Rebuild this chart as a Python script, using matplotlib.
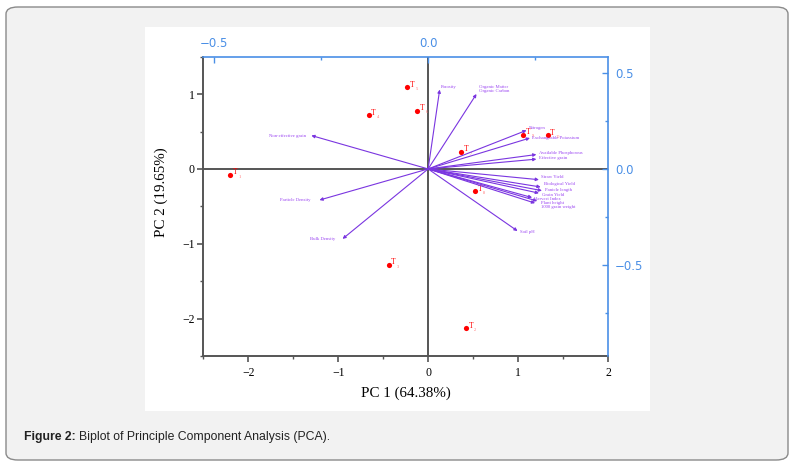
import numpy as np
import matplotlib
matplotlib.use("Agg")
import matplotlib.pyplot as plt
from matplotlib.patches import FancyBboxPatch

# treatment scores (PC1, PC2)
treat_names = ["1", "4", "5", "6", "7", "9", "10", "8", "3", "2"]
pc1_scores = [-2.20, -0.66, -0.23, -0.12, 0.37, 1.06, 1.33, 0.52, -0.44, 0.42]
pc2_scores = [-0.08, 0.72, 1.09, 0.78, 0.23, 0.46, 0.45, -0.30, -1.28, -2.13]

# variable loadings (top / right axes)
var_names = ["Porosity", "Organic Matter\nOrganic Carbon", "Nitrogen",
             "Exchangeable Potassium", "Available Phosphorous", "Effective grain",
             "Straw Yield", "Biological Yield", "Panicle length", "Grain Yield",
             "Harvest Index", "Plant height", "1000 grain weight", "Soil pH",
             "Non-effective grain", "Particle Density", "Bulk Density"]
load_x = [0.027, 0.113, 0.230, 0.238, 0.253, 0.253, 0.259, 0.263, 0.266, 0.259,
          0.243, 0.255, 0.250, 0.209, -0.273, -0.254, -0.200]
load_y = [0.413, 0.390, 0.201, 0.161, 0.075, 0.051, -0.056, -0.094, -0.113, -0.126,
          -0.149, -0.167, -0.178, -0.323, 0.174, -0.162, -0.364]
# label offsets in points from arrow tip
lab_dx = [1, 1.5, 1.5, 1.5, 2, 2, 1.5, 2.5, 2, 2.5, 1.5, 3, 4, 1.5, -4, -6.5, -5]
lab_dy = [1.5, 3.5, 1.5, 0, 0.8, 0.8, 2, 2, 0.2, -1, -0.8, -1.5, -3, -1, 0, 0, 0]

plt.rcParams['font.family'] = ['Liberation Serif', 'DejaVu Serif']
plt.rcParams['axes.unicode_minus'] = True

W, H = 794, 467
fig = plt.figure(figsize=(W / 100, H / 100), dpi=100, facecolor='white')

# page frame
fig.patches.append(FancyBboxPatch((6 / W, 1 - 460 / H), 782 / W, 453 / H,
                                  boxstyle="round,pad=0,rounding_size=0.015",
                                  transform=fig.transFigure, facecolor='#f2f2f2',
                                  edgecolor='#8a8a8a', linewidth=1.0, zorder=-2))
fig.patches.append(plt.Rectangle((145 / W, 1 - 411 / H), 505 / W, 384 / H,
                                 transform=fig.transFigure, facecolor='white',
                                 edgecolor='none', zorder=-1))

pos = [203.3 / W, 1 - 356 / H, 404.7 / W, 299.3 / H]
ax = fig.add_axes(pos)
ax.set_xlim(-2.5, 2)
ax.set_ylim(-2.5, 1.5)
ax.patch.set_alpha(0)

blue = '#4a8fe6'
gray = '#555555'
for s in ['top', 'right']:
    ax.spines[s].set_visible(False)
for s in ['left', 'bottom']:
    ax.spines[s].set_color(gray)
    ax.spines[s].set_linewidth(1.4)

ax.set_xticks([-2, -1, 0, 1, 2])
ax.set_xticks([-2.5, -1.5, -0.5, 0.5, 1.5], minor=True)
ax.set_yticks([-2, -1, 0, 1])
ax.set_yticks([-2.5, -1.5, -0.5, 0.5, 1.5], minor=True)
ax.tick_params(which='major', length=4, width=1.2, color=gray, labelsize=8.5)
ax.tick_params(axis='x', which='major', pad=4)
ax.tick_params(axis='y', which='major', pad=2)
ax.tick_params(which='minor', length=2.5, width=1.0, color=gray)

ax.axvline(0, color=gray, lw=1.4, zorder=1)
ax.axhline(0, color=gray, lw=1.4, zorder=1)

ax.set_xlabel('PC 1 (64.38%)', fontsize=10.8, labelpad=5)
ax.set_ylabel('PC 2 (19.65%)', fontsize=10.8)
ax.yaxis.set_label_coords(-0.087, 0.548)

# secondary axes for loadings
ax2 = fig.add_axes(pos)
ax2.patch.set_alpha(0)
ax2.set_xlim(-2.5 / 4.757, 2 / 4.757)
ax2.set_ylim(-2.5 / 2.568, 1.5 / 2.568)
ax2.xaxis.tick_top()
ax2.yaxis.tick_right()
for s in ['left', 'bottom']:
    ax2.spines[s].set_visible(False)
for s in ['top', 'right']:
    ax2.spines[s].set_color(blue)
    ax2.spines[s].set_linewidth(1.2)
ax2.set_xticks([-0.5, 0.0])
ax2.set_xticks([-0.25, 0.25], minor=True)
ax2.set_yticks([-0.5, 0.0, 0.5])
ax2.set_yticks([-0.75, -0.25, 0.25], minor=True)
ax2.set_xticklabels(['\u22120.5', '0.0'], family='DejaVu Sans')
ax2.set_yticklabels(['\u22120.5', '0.0', '0.5'], family='DejaVu Sans')
ax2.tick_params(which='both', direction='in', color=blue, labelcolor=blue)
ax2.tick_params(which='major', length=4, width=1.0, labelsize=8.5, pad=5)
ax2.tick_params(which='minor', length=2.5, width=1.0)

arrow_col = '#7a35e0'
text_col = '#9b45f2'
for name, lx, ly, dx, dy in zip(var_names, load_x, load_y, lab_dx, lab_dy):
    ax2.annotate('', xy=(lx, ly), xytext=(0, 0),
                 arrowprops=dict(arrowstyle='-|>', color=arrow_col, lw=0.8,
                                 mutation_scale=4.5, shrinkA=0, shrinkB=0),
                 zorder=3)
    ax2.annotate(name, xy=(lx, ly), xytext=(dx, dy), textcoords='offset points',
                 fontsize=3.4, color=text_col, linespacing=1.0,
                 ha='left' if dx > 0 else 'right', va='center', zorder=4)

ax.scatter(pc1_scores, pc2_scores, s=14, color='red', zorder=5, linewidths=0)
for name, x, y in zip(treat_names, pc1_scores, pc2_scores):
    ax.annotate('T', xy=(x, y), xytext=(1.8, 1.8), textcoords='offset points',
                fontsize=5.5, color='red', ha='left', va='center', zorder=6)
    ax.annotate(name, xy=(x, y), xytext=(5.8, -1.3), textcoords='offset points',
                fontsize=3.2, color='#ff7070', ha='left', va='center', zorder=6)

# caption
fig.text(24 / W, 1 - 437 / H, 'Figure 2:', fontsize=8.8, fontweight='bold',
         family='Liberation Sans', color='#222222', va='center')
fig.text(79 / W, 1 - 437 / H, 'Biplot of Principle Component Analysis (PCA).',
         fontsize=8.8, family='Liberation Sans', color='#222222', va='center')

fig.savefig('out.png', dpi=100, facecolor='white')
